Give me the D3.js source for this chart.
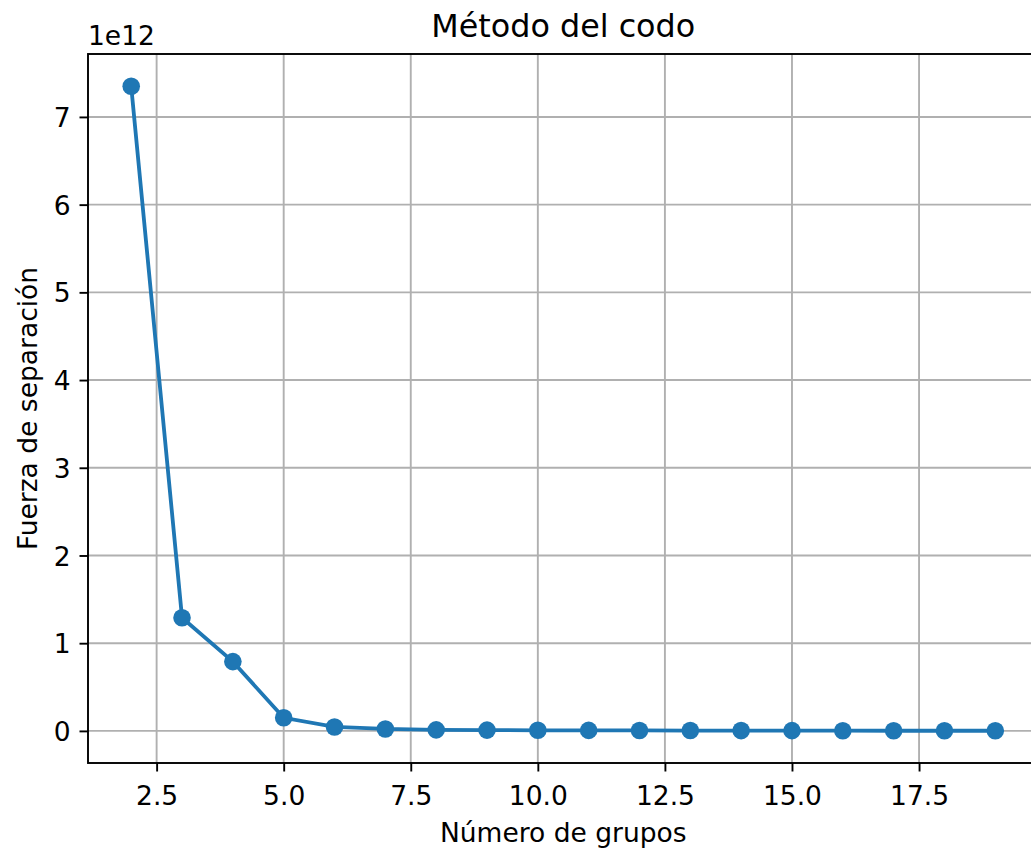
<!DOCTYPE html>
<html>
<head>
<meta charset="utf-8">
<script src="https://cdn.jsdelivr.net/npm/d3@7"></script>
<style>
  body { margin: 0; background: #fff; }
  svg text { font-family: "DejaVu Sans", sans-serif; fill: #000; }
</style>
</head>
<body>
<div class="chart"></div>
<script>
// k values (number of clusters) and inertia (units of 1e12)
const groups = [2, 3, 4, 5, 6, 7, 8, 9, 10, 11, 12, 13, 14, 15, 16, 17, 18, 19];
const inertia = [7.35, 1.29, 0.79, 0.15, 0.045, 0.022, 0.012, 0.009, 0.007, 0.006,
                 0.005, 0.004, 0.0035, 0.003, 0.0025, 0.002, 0.0018, 0.0015];
const xTicks = [2.5, 5.0, 7.5, 10.0, 12.5, 15.0, 17.5];
const yTicks = [0, 1, 2, 3, 4, 5, 6, 7];

const points = groups.map((g, i) => ({k: g, v: inertia[i]}));

const width = 1031,
      height = 852;
const mLeft = 88, mRight = 1038.5, mTop = 54, mBottom = 763;
const fs = 26.5;

const pad = (ext) => {
  const m = (ext[1] - ext[0]) * 0.05;
  return [ext[0] - m, ext[1] + m];
};

const x = d3.scaleLinear().domain(pad(d3.extent(groups))).range([mLeft, mRight]);
const y = d3.scaleLinear().domain(pad(d3.extent(inertia))).range([mBottom, mTop]);

const svg = d3.select('.chart')
              .append('svg')
              .attr('width', width)
              .attr('height', height);

// grid
svg.append('g')
   .selectAll('line')
   .data(xTicks)
   .enter()
   .append('line')
   .attr('x1', d => x(d)).attr('x2', d => x(d))
   .attr('y1', mTop).attr('y2', mBottom)
   .attr('stroke', '#b0b0b0')
   .attr('stroke-width', 1.9);

svg.append('g')
   .selectAll('line')
   .data(yTicks)
   .enter()
   .append('line')
   .attr('x1', mLeft).attr('x2', mRight)
   .attr('y1', d => y(d)).attr('y2', d => y(d))
   .attr('stroke', '#b0b0b0')
   .attr('stroke-width', 1.9);

// line + markers
const line = d3.line().x(d => x(d.k)).y(d => y(d.v));

svg.append('path')
   .datum(points)
   .attr('d', line)
   .attr('fill', 'none')
   .attr('stroke', '#1f77b4')
   .attr('stroke-width', 3.8);

svg.append('g')
   .selectAll('circle')
   .data(points)
   .enter()
   .append('circle')
   .attr('cx', d => x(d.k))
   .attr('cy', d => y(d.v))
   .attr('r', 8.8)
   .attr('fill', '#1f77b4');

// axes
const xAxis = d3.axisBottom(x)
                .tickValues(xTicks)
                .tickFormat(d3.format('.1f'))
                .tickSizeOuter(0)
                .tickSize(8.5)
                .tickPadding(8.5);

const yAxis = d3.axisLeft(y)
                .tickValues(yTicks)
                .tickFormat(d3.format('d'))
                .tickSizeOuter(0)
                .tickSize(8.5)
                .tickPadding(9);

const gx = svg.append('g')
              .attr('transform', `translate(0, ${mBottom})`)
              .call(xAxis);
gx.select('.domain').remove();
gx.selectAll('line').attr('stroke', '#000').attr('stroke-width', 1.9);
gx.selectAll('text')
  .attr('font-size', fs)
  .attr('font-family', '"DejaVu Sans", sans-serif')
  .attr('fill', '#000')
  .attr('dy', null)
  .attr('y', 42);

const gy = svg.append('g')
              .attr('transform', `translate(${mLeft}, 0)`)
              .call(yAxis);
gy.select('.domain').remove();
gy.selectAll('line').attr('stroke', '#000').attr('stroke-width', 1.9);
gy.selectAll('text')
  .attr('font-size', fs)
  .attr('font-family', '"DejaVu Sans", sans-serif')
  .attr('fill', '#000')
  .attr('dy', '0.36em');

// spines
svg.append('rect')
   .attr('x', mLeft)
   .attr('y', mTop)
   .attr('width', mRight - mLeft)
   .attr('height', mBottom - mTop)
   .attr('fill', 'none')
   .attr('stroke', '#000')
   .attr('stroke-width', 1.9);

// texts
svg.append('text')
   .attr('x', (mLeft + mRight) / 2)
   .attr('y', 37)
   .attr('text-anchor', 'middle')
   .attr('font-size', 31.8)
   .text('Método del codo');

svg.append('text')
   .attr('x', (mLeft + mRight) / 2)
   .attr('y', 842)
   .attr('text-anchor', 'middle')
   .attr('font-size', fs)
   .text('Número de grupos');

svg.append('text')
   .attr('transform', `translate(37, ${(mTop + mBottom) / 2}) rotate(-90)`)
   .attr('text-anchor', 'middle')
   .attr('font-size', fs)
   .text('Fuerza de separación');

svg.append('text')
   .attr('x', mLeft)
   .attr('y', 45)
   .attr('font-size', fs)
   .text('1e12');
</script>
</body>
</html>
